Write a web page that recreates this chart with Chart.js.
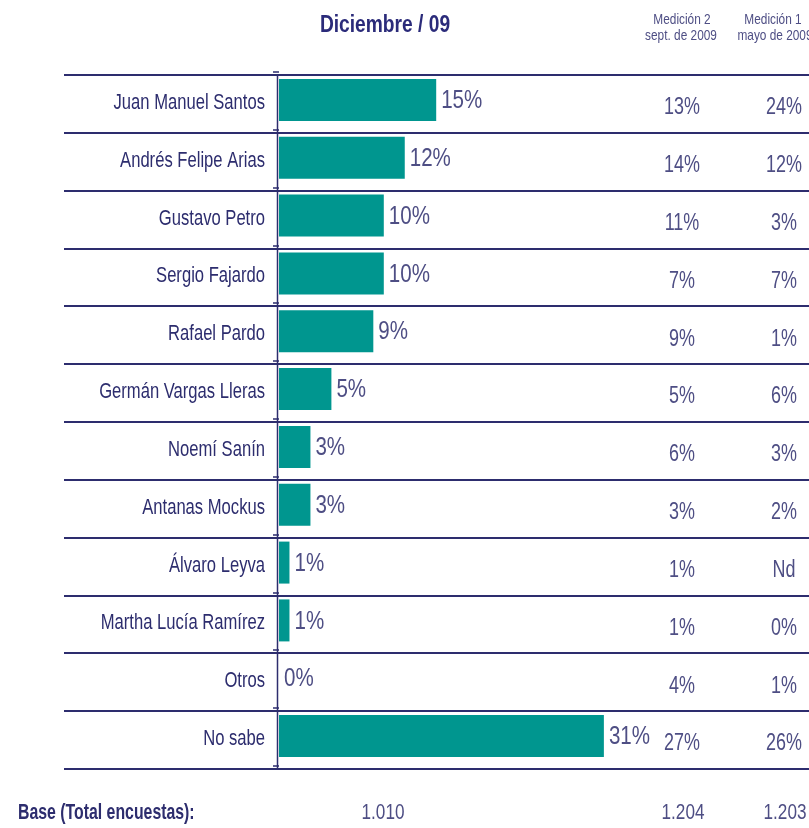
<!DOCTYPE html>
<html>
<head>
<meta charset="utf-8">
<script src="https://cdn.jsdelivr.net/npm/chart.js@4/dist/chart.umd.min.js"></script>
<style>
html,body{margin:0;padding:0;background:#ffffff;}
canvas{display:block;}
</style>
</head>
<body>
<canvas id="c" width="809" height="828"></canvas>
<script>
// ---- data ----
const categories = ['Juan Manuel Santos','Andrés Felipe Arias','Gustavo Petro','Sergio Fajardo','Rafael Pardo','Germán Vargas Lleras','Noemí Sanín','Antanas Mockus','Álvaro Leyva','Martha Lucía Ramírez','Otros','No sabe'];
const diciembre09 = [15, 12, 10, 10, 9, 5, 3, 3, 1, 1, 0, 31];
const medicion2 = [13, 14, 11, 7, 9, 5, 6, 3, 1, 1, 4, 27];
const medicion1 = [24, 12, 3, 7, 1, 6, 3, 2, null, 0, 1, 26];
const mainTitle = 'Diciembre / 09';
const med2Header = ['Medición 2', 'sept. de 2009'];
const med1Header = ['Medición 1', 'mayo de 2009'];
const baseLabel = 'Base (Total encuestas):';
const bases = ['1.010', '1.204', '1.203'];

const NAVY = '#2d2d6e';
const VAL = '#4e4e84';
const TEAL = '#00968f';
const FF = '"Liberation Sans", Arial, sans-serif';

function txt(ctx, s, x, y, font, color, align, sx) {
  ctx.save();
  ctx.font = font;
  ctx.fillStyle = color;
  ctx.textBaseline = 'middle';
  ctx.textAlign = align;
  ctx.translate(x, y);
  ctx.scale(sx, 1);
  ctx.fillText(s, 0, 0);
  ctx.restore();
}
const pct = v => (v === null ? 'Nd' : v + '%');

const tablePlugin = {
  id: 'tablePlugin',
  beforeDatasetsDraw(chart) {
    const ctx = chart.ctx;
    const ca = chart.chartArea;
    const y = chart.scales.y;
    const n = categories.length;
    const rowH = (ca.bottom - ca.top) / n;
    ctx.save();
    ctx.strokeStyle = NAVY;
    ctx.lineWidth = 2;
    for (let i = 0; i <= n; i++) {
      const yy = Math.round(y.getPixelForValue(0) - rowH / 2 + i * rowH + 4);
      ctx.beginPath();
      ctx.moveTo(64, yy);
      ctx.lineTo(809, yy);
      ctx.stroke();
      ctx.lineWidth = 1.5;
      ctx.beginPath();
      ctx.moveTo(273, yy - 3);
      ctx.lineTo(ca.left, yy - 3);
      ctx.stroke();
      ctx.lineWidth = 2;
    }
    const top = Math.round(y.getPixelForValue(0) - rowH / 2 + 4);
    const bot = Math.round(y.getPixelForValue(n - 1) + rowH / 2 + 4);
    ctx.lineWidth = 1.5;
    ctx.beginPath();
    ctx.moveTo(ca.left - 1.5, top);
    ctx.lineTo(ca.left - 1.5, bot);
    ctx.stroke();
    ctx.restore();
  },
  afterDatasetsDraw(chart) {
    const ctx = chart.ctx;
    const xs = chart.scales.x;
    const ys = chart.scales.y;
    categories.forEach((c, i) => {
      const yc = ys.getPixelForValue(i);
      txt(ctx, c, 265, yc + 3, '22px ' + FF, NAVY, 'right', 0.755);
      txt(ctx, pct(diciembre09[i]), xs.getPixelForValue(diciembre09[i]) + 5, yc + 1, '26px ' + FF, VAL, 'left', 0.79);
      txt(ctx, pct(medicion2[i]), 682, yc + 8, '23px ' + FF, VAL, 'center', 0.78);
      txt(ctx, pct(medicion1[i]), 784, yc + 8, '23px ' + FF, VAL, 'center', 0.78);
    });
    txt(ctx, mainTitle, 385, 25, 'bold 24px ' + FF, '#2b2b7a', 'center', 0.8);
    txt(ctx, med2Header[0], 682, 20, '15px ' + FF, VAL, 'center', 0.79);
    txt(ctx, med2Header[1], 681, 36, '15px ' + FF, VAL, 'center', 0.79);
    txt(ctx, med1Header[0], 773, 20, '15px ' + FF, VAL, 'center', 0.79);
    txt(ctx, med1Header[1], 775, 36, '15px ' + FF, VAL, 'center', 0.79);
    txt(ctx, baseLabel, 18, 813, 'bold 22px ' + FF, NAVY, 'left', 0.72);
    txt(ctx, bases[0], 383, 813, '22px ' + FF, VAL, 'center', 0.78);
    txt(ctx, bases[1], 683, 813, '22px ' + FF, VAL, 'center', 0.78);
    txt(ctx, bases[2], 785, 813, '22px ' + FF, VAL, 'center', 0.78);
  }
};

new Chart(document.getElementById('c'), {
  type: 'bar',
  data: {
    labels: categories,
    datasets: [{
      data: diciembre09,
      backgroundColor: TEAL,
      borderWidth: 0,
      barPercentage: 0.726,
      categoryPercentage: 1
    }]
  },
  options: {
    indexAxis: 'y',
    responsive: false,
    animation: false,
    layout: { padding: { left: 279, right: 6, top: 71, bottom: 63 } },
    scales: {
      x: { display: false, min: 0, max: 50 },
      y: { display: false }
    },
    plugins: { legend: { display: false }, tooltip: { enabled: false } }
  },
  plugins: [tablePlugin]
});
</script>
</body>
</html>
